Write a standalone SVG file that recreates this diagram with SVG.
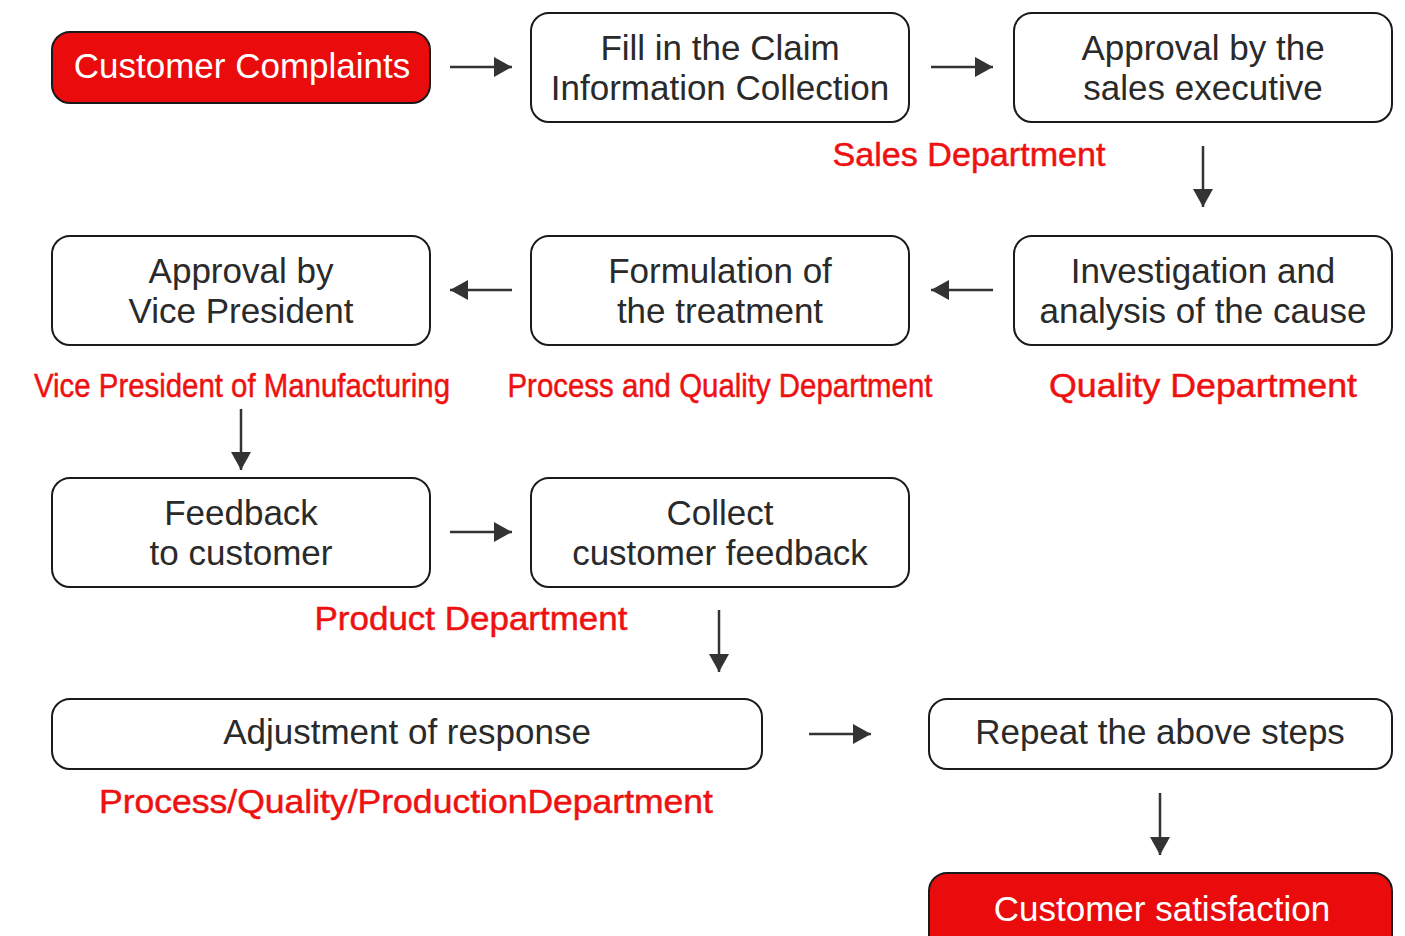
<svg xmlns="http://www.w3.org/2000/svg" width="1405" height="936" viewBox="0 0 1405 936">
  <defs>
    <marker id="arrow" viewBox="0 0 18 20" refX="18" refY="10" markerWidth="18" markerHeight="20" markerUnits="userSpaceOnUse" orient="auto">
      <path d="M0,0 L18,10 L0,20 z" fill="#333"/>
    </marker>
    <style>
      .box { fill: #fff; stroke: #1a1a1a; stroke-width: 2; }
      .hot { fill: #ea0c0c; stroke: #1a1a1a; stroke-width: 2; }
      .t { font-family: "Liberation Sans", Arial, sans-serif; font-size: 35px; fill: #2a2a2a; text-anchor: middle; }
      .w { font-family: "Liberation Sans", Arial, sans-serif; font-size: 35px; fill: #fff; text-anchor: middle; }
      .dept { font-family: "Liberation Sans", Arial, sans-serif; font-size: 34px; fill: #ee1111; stroke: #ee1111; stroke-width: 0.5; text-anchor: middle; }
      .conn line { stroke: #333; stroke-width: 2.5; marker-end: url(#arrow); }
    </style>
  </defs>
  <rect width="1405" height="936" fill="#fff"/>

  <g id="customer-complaints">
    <rect class="hot" x="52" y="32" width="378" height="71" rx="18"/>
    <text class="w" x="242" y="78">Customer Complaints</text>
  </g>
  <g id="fill-claim">
    <rect class="box" x="531" y="13" width="378" height="109" rx="18"/>
    <text class="t" x="720" y="60">Fill in the Claim</text>
    <text class="t" x="720" y="100">Information Collection</text>
  </g>
  <g id="sales-approval">
    <rect class="box" x="1014" y="13" width="378" height="109" rx="18"/>
    <text class="t" x="1203" y="60">Approval by the</text>
    <text class="t" x="1203" y="100">sales executive</text>
  </g>
  <text class="dept" x="969" y="166" textLength="273" lengthAdjust="spacingAndGlyphs">Sales Department</text>

  <g id="vp-approval">
    <rect class="box" x="52" y="236" width="378" height="109" rx="18"/>
    <text class="t" x="241" y="283">Approval by</text>
    <text class="t" x="241" y="323">Vice President</text>
  </g>
  <g id="treatment">
    <rect class="box" x="531" y="236" width="378" height="109" rx="18"/>
    <text class="t" x="720" y="283">Formulation of</text>
    <text class="t" x="720" y="323">the treatment</text>
  </g>
  <g id="investigation">
    <rect class="box" x="1014" y="236" width="378" height="109" rx="18"/>
    <text class="t" x="1203" y="283">Investigation and</text>
    <text class="t" x="1203" y="323">analysis of the cause</text>
  </g>
  <text class="dept" x="242" y="397" textLength="416" lengthAdjust="spacingAndGlyphs">Vice President of Manufacturing</text>
  <text class="dept" x="720" y="397" textLength="425" lengthAdjust="spacingAndGlyphs">Process and Quality Department</text>
  <text class="dept" x="1203" y="397" textLength="308" lengthAdjust="spacingAndGlyphs">Quality Department</text>

  <g id="feedback">
    <rect class="box" x="52" y="478" width="378" height="109" rx="18"/>
    <text class="t" x="241" y="525">Feedback</text>
    <text class="t" x="241" y="565">to customer</text>
  </g>
  <g id="collect">
    <rect class="box" x="531" y="478" width="378" height="109" rx="18"/>
    <text class="t" x="720" y="525">Collect</text>
    <text class="t" x="720" y="565">customer feedback</text>
  </g>
  <text class="dept" x="471" y="630" textLength="313" lengthAdjust="spacingAndGlyphs">Product Department</text>

  <g id="adjustment">
    <rect class="box" x="52" y="699" width="710" height="70" rx="18"/>
    <text class="t" x="407" y="744">Adjustment of response</text>
  </g>
  <g id="repeat">
    <rect class="box" x="929" y="699" width="463" height="70" rx="18"/>
    <text class="t" x="1160" y="744">Repeat the above steps</text>
  </g>
  <text class="dept" x="406" y="813" textLength="614" lengthAdjust="spacingAndGlyphs">Process/Quality/ProductionDepartment</text>

  <g id="satisfaction">
    <rect class="hot" x="929" y="873" width="463" height="90" rx="18"/>
    <text class="w" x="1162" y="921">Customer satisfaction</text>
  </g>

  <g id="connectors" class="conn">
    <line x1="450" y1="67" x2="512" y2="67"/>
    <line x1="931" y1="67" x2="993" y2="67"/>
    <line x1="1203" y1="146" x2="1203" y2="207"/>
    <line x1="993" y1="290" x2="931" y2="290"/>
    <line x1="512" y1="290" x2="450" y2="290"/>
    <line x1="241" y1="409" x2="241" y2="470"/>
    <line x1="450" y1="532" x2="512" y2="532"/>
    <line x1="719" y1="610" x2="719" y2="672"/>
    <line x1="809" y1="734" x2="871" y2="734"/>
    <line x1="1160" y1="793" x2="1160" y2="855"/>
  </g>
</svg>
